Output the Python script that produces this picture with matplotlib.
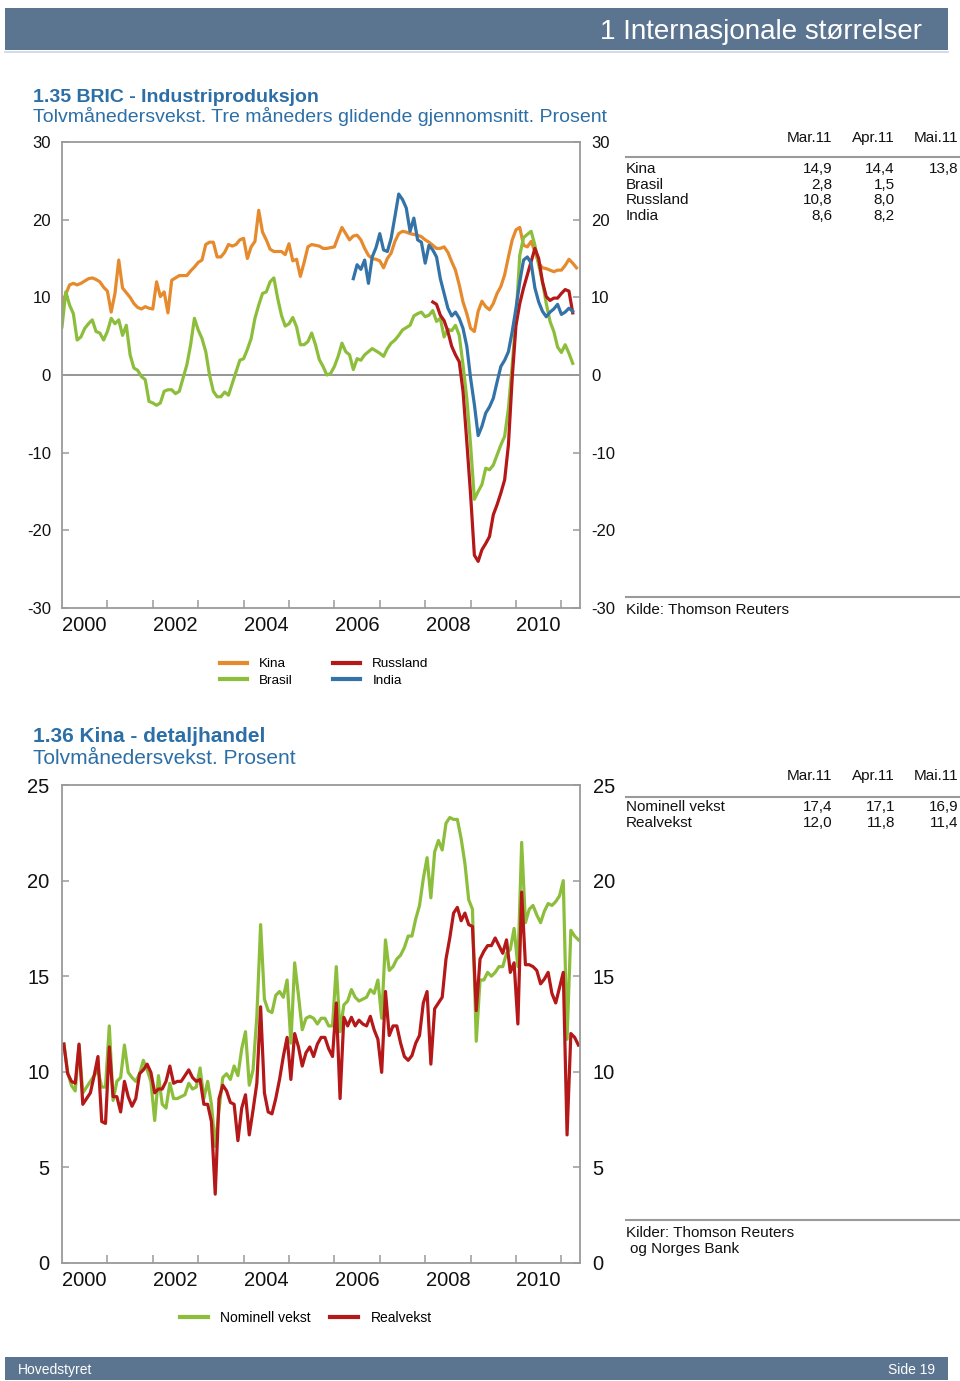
import numpy as np
import matplotlib
matplotlib.use("Agg")
import matplotlib.pyplot as plt
from matplotlib.patches import Rectangle
from matplotlib.lines import Line2D

plt.rcParams['font.family'] = ['Liberation Sans', 'DejaVu Sans']

# ---- 1.35 BRIC industrial production, monthly from Jan 2000 (month index 0) ----
kina_start = 0
kina = [9.2, 10.4, 11.6, 11.8, 11.6, 11.8, 12.1, 12.4, 12.5, 12.3, 12.0, 11.3,
        10.8, 8.1, 10.5, 14.8, 11.2, 10.6, 10.0, 9.2, 8.7, 8.5, 8.8, 8.6,
        8.5, 12.0, 10.1, 10.7, 8.0, 12.2, 12.5, 12.8, 12.8, 12.8, 13.4, 13.9,
        14.5, 14.8, 16.8, 17.1, 17.1, 15.2, 15.2, 15.8, 16.8, 16.6, 16.8, 17.4,
        17.6, 15.0, 16.5, 17.2, 21.2, 18.4, 17.4, 16.2, 15.9, 15.9, 15.9, 15.5,
        16.9, 14.7, 14.9, 12.7, 14.5, 16.5, 16.8, 16.7, 16.6, 16.3, 16.3, 16.4,
        16.5, 17.8, 19.0, 18.2, 17.4, 17.9, 18.0, 17.4, 16.3, 15.4, 15.0, 14.9,
        14.7, 13.8, 15.0, 15.7, 17.2, 18.2, 18.5, 18.4, 18.2, 18.1, 18.0, 17.8,
        17.4, 17.1, 16.7, 16.3, 16.3, 16.5, 15.8, 14.6, 13.5, 11.6, 9.4, 7.9,
        6.0, 5.6, 8.2, 9.5, 8.8, 8.4, 9.2, 10.5, 11.4, 12.9, 15.2, 17.4,
        18.7, 19.0, 16.7, 16.5, 17.2, 15.9, 14.4, 13.8, 13.7, 13.5, 13.3, 13.5,
        13.5, 14.1, 14.9, 14.4, 13.8]

brasil_start = 0
brasil = [6.2, 10.7, 9.0, 7.9, 4.5, 4.9, 6.0, 6.6, 7.1, 5.6, 5.4, 4.5,
          5.6, 7.3, 6.6, 7.1, 5.1, 6.4, 2.6, 0.9, 0.6, -0.2, -0.6, -3.4,
          -3.6, -3.9, -3.6, -2.1, -1.9, -1.9, -2.4, -2.1, -0.4, 1.3, 3.9, 7.3,
          5.8, 4.7, 3.0, 0.0, -2.1, -2.8, -2.8, -2.2, -2.6, -1.1, 0.4, 1.9,
          2.1, 3.3, 4.7, 7.3, 9.0, 10.5, 10.7, 12.0, 12.5, 9.9, 7.7, 6.3,
          6.6, 7.4, 6.2, 3.9, 3.9, 4.3, 5.4, 3.9, 2.0, 1.1, 0.0, 0.2,
          1.1, 2.4, 4.1, 3.0, 2.6, 0.7, 2.1, 1.9, 2.6, 3.0, 3.4, 3.1,
          2.8, 2.4, 3.4, 4.1, 4.5, 5.1, 5.8, 6.1, 6.4, 7.6, 7.9, 8.1,
          7.5, 7.7, 8.3, 6.9, 7.3, 4.9, 5.9, 5.7, 6.4, 5.1, 1.3, -3.0,
          -9.0, -16.0, -15.0, -14.1, -12.0, -12.2, -11.6, -10.3, -9.0, -7.9, -4.3, 1.3,
          7.3, 15.4, 17.7, 18.1, 18.5, 16.7, 14.2, 12.0, 9.2, 6.9, 5.6, 3.6,
          2.9, 3.9, 2.8, 1.5]

russland_start = 98
russland = [9.4, 9.1, 7.7, 7.0, 5.6, 3.7, 2.6, 1.7, -2.1, -8.6, -15.4, -23.2,
            -24.0, -22.5, -21.7, -20.8, -18.0, -16.7, -15.2, -13.5, -9.0, -0.4, 6.4, 9.2,
            11.2, 12.9, 14.6, 16.3, 15.0, 12.0, 10.1, 9.6, 9.9, 9.9, 10.5, 11.0,
            10.8, 8.0]

india_start = 77
india = [12.4, 14.2, 13.6, 14.8, 11.8, 15.2, 16.4, 18.2, 16.1, 15.9, 17.6, 20.4,
         23.3, 22.6, 21.5, 18.5, 20.2, 17.4, 17.1, 14.4, 16.7, 16.1, 15.2, 12.4,
         10.5, 8.6, 7.6, 8.1, 7.3, 6.0, 3.7, -0.4, -3.8, -7.8, -6.6, -4.9,
         -4.1, -3.0, -0.9, 1.1, 1.9, 3.0, 5.6, 8.6, 12.0, 14.8, 15.2, 14.4,
         11.2, 9.4, 8.2, 7.5, 8.1, 8.5, 9.1, 7.8, 8.1, 8.6, 8.2]

# ---- 1.36 China retail sales, monthly from Jan 2000 ----
nominell = [11.45, 9.97, 9.28, 9.0, 11.4, 8.9, 9.2, 9.5, 9.8, 10.1, 9.2, 9.2,
            12.4, 8.5, 9.5, 9.7, 11.4, 9.97, 9.7, 9.5, 9.9, 10.6, 10.1, 9.5,
            7.45, 9.8, 8.3, 8.1, 9.4, 8.6, 8.6, 8.7, 8.8, 9.4, 9.1, 9.2,
            10.2, 8.6, 9.5, 8.3, 6.1, 8.0, 9.7, 9.9, 9.6, 10.3, 9.8, 11.2,
            12.1, 9.3, 10.1, 12.9, 17.7, 13.8, 13.2, 13.1, 14.0, 14.2, 13.9, 14.8,
            11.5, 15.7, 14.0, 12.2, 12.8, 12.9, 12.8, 12.5, 12.8, 12.8, 12.4, 12.4,
            15.5, 12.1, 13.5, 13.7, 14.3, 13.9, 13.7, 13.8, 13.9, 14.3, 14.1, 14.8,
            12.8, 16.9, 15.3, 15.5, 15.9, 16.1, 16.5, 17.1, 17.1, 18.0, 18.7, 20.1,
            21.2, 19.1, 21.5, 22.1, 21.6, 23.0, 23.3, 23.2, 23.2, 22.2, 20.9, 19.0,
            18.5, 11.6, 14.8, 14.8, 15.2, 15.0, 15.2, 15.5, 15.5, 16.2, 16.4, 17.5,
            15.5, 22.0, 17.8, 18.5, 18.7, 18.2, 17.8, 18.4, 18.8, 18.7, 18.9, 19.2,
            20.0, 11.7, 17.4, 17.1, 16.9]

realvekst = [11.45, 9.9, 9.5, 9.4, 11.45, 8.3, 8.6, 8.9, 9.8, 10.8, 7.4, 7.3,
             11.3, 8.7, 8.7, 7.9, 9.5, 8.7, 8.2, 8.6, 9.9, 10.1, 10.4, 9.97,
             8.9, 9.1, 9.1, 9.5, 10.3, 9.4, 9.5, 9.5, 9.8, 10.1, 9.7, 9.5,
             9.6, 8.3, 8.3, 7.4, 3.6, 8.6, 9.3, 9.0, 8.4, 8.3, 6.4, 8.1,
             8.8, 6.7, 8.0, 9.4, 13.4, 8.9, 7.9, 7.8, 8.6, 9.6, 10.8, 11.8,
             9.6, 12.0, 11.3, 10.3, 11.0, 11.3, 10.8, 11.45, 11.8, 11.8, 11.2, 10.8,
             13.6, 8.6, 12.85, 12.4, 12.85, 12.4, 12.7, 12.5, 12.4, 12.9, 12.2, 11.7,
             9.97, 14.2, 11.9, 12.4, 12.4, 11.5, 10.8, 10.6, 10.85, 11.5, 11.9, 13.6,
             14.2, 10.4, 13.3, 13.6, 13.9, 15.9, 17.0, 18.3, 18.6, 17.9, 18.3, 17.7,
             17.6, 13.2, 15.9, 16.3, 16.6, 16.6, 17.0, 16.6, 16.2, 16.9, 15.2, 15.7,
             12.5, 19.4, 15.6, 15.6, 15.5, 15.3, 14.6, 14.85, 15.2, 14.1, 13.6, 14.4,
             15.2, 6.7, 12.0, 11.8, 11.4]

table_months = ['Mar.11', 'Apr.11', 'Mai.11']
table_idx = [134, 135, 136]
year_labels = [2000, 2002, 2004, 2006, 2008, 2010]

# ---- style ----
W, H = 960, 1381
BAR = '#5B7590'
TITLE = '#2C6EA6'
SPINE = '#9A9A9A'
TXT = '#111111'
C_KINA = '#E68A2E'
C_BRASIL = '#8CBE3C'
C_RUSS = '#B41818'
C_INDIA = '#3473A8'


def fx(px):
    return px / W


def fy(py):
    return 1 - py / H


def txt(fig, x, y, s, **kw):
    # y given as visual centre of the glyphs in pixels
    kw.setdefault('va', 'center')
    return fig.text(fx(x), fy(y + 2), s, **kw)


def months_to_x(start, n, offset=0.0):
    return 2000 + (start + np.arange(n) + offset) / 12.0


def style_axes(ax, ylim, yticks, ylabsize, ypad):
    ax.set_xlim(2000, 2011.41)
    ax.set_ylim(*ylim)
    ax.set_yticks(yticks)
    ax.set_yticklabels([str(t) for t in yticks])
    ax.set_xticks(range(2001, 2012))
    ax.set_xticks([y + 0.5 for y in year_labels], minor=True)
    ax.set_xticklabels([str(y) for y in year_labels], minor=True)
    ax.tick_params(axis='x', which='major', direction='in', length=6,
                   width=1.1, color=SPINE, labelbottom=False)
    ax.tick_params(axis='x', which='minor', length=0, labelsize=14.5,
                   pad=5.5, labelcolor=TXT)
    ax.tick_params(axis='y', direction='in', length=5, width=1.1, color=SPINE,
                   left=True, right=True, labelleft=True, labelright=True,
                   labelsize=ylabsize, pad=ypad, labelcolor=TXT)
    for s in ax.spines.values():
        s.set_color(SPINE)
        s.set_linewidth(1.3)


def fmt(v):
    return f"{v:.1f}".replace('.', ',')


def table(fig, header_y, line_y, row_y, rows):
    cols = [832, 895, 958]
    for c, m in zip(cols, table_months):
        txt(fig, c, header_y, m, ha='right', fontsize=11, color=TXT)
    fig.add_artist(Line2D([fx(626), fx(960)], [fy(line_y), fy(line_y)],
                          color=SPINE, lw=1.5))
    for (label, start, series), y in zip(rows, row_y):
        txt(fig, 626, y, label, ha='left', fontsize=11, color=TXT)
        for c, m in zip(cols, table_idx):
            k = m - start
            if 0 <= k < len(series):
                txt(fig, c, y, fmt(series[k]), ha='right', fontsize=11,
                    color=TXT)


fig = plt.figure(figsize=(9.6, 13.81), dpi=100)

# header and footer bars
fig.add_artist(Rectangle((fx(5), fy(50)), fx(943), 42 / H,
                         facecolor=BAR, edgecolor='none'))
fig.add_artist(Line2D([fx(5), fx(948)], [fy(52), fy(52)],
                      color='#C9D5E1', lw=1.2))
txt(fig, 922, 30, '1 Internasjonale størrelser', ha='right', fontsize=20,
    color='white')
fig.add_artist(Rectangle((fx(5), fy(1380)), fx(943), 23 / H,
                         facecolor=BAR, edgecolor='none'))
txt(fig, 18, 1368, 'Hovedstyret', ha='left', fontsize=10, color='white')
txt(fig, 935, 1368, 'Side 19', ha='right', fontsize=10, color='white')

# ---- chart 1.35 ----
txt(fig, 33, 95, '1.35 BRIC - Industriproduksjon', ha='left', fontsize=14,
    fontweight='bold', color=TITLE)
txt(fig, 33, 115,
    'Tolvmånedersvekst. Tre måneders glidende gjennomsnitt. Prosent',
    ha='left', fontsize=14, color=TITLE)

ax1 = fig.add_axes([fx(62), fy(608), (580 - 62) / W, (608 - 142) / H])
style_axes(ax1, (-30, 30), list(range(-30, 31, 10)), 12, 8)
ax1.axhline(0, color='#8C8C8C', lw=1.3, zorder=1)
lw = 2.3
ax1.plot(months_to_x(kina_start, len(kina)), kina, color=C_KINA, lw=lw)
ax1.plot(months_to_x(brasil_start, len(brasil)), brasil, color=C_BRASIL, lw=lw)
ax1.plot(months_to_x(russland_start, len(russland)), russland, color=C_RUSS, lw=lw)
ax1.plot(months_to_x(india_start, len(india)), india, color=C_INDIA, lw=lw)

h1 = [Line2D([], [], color=c, lw=3) for c in (C_KINA, C_BRASIL, C_RUSS, C_INDIA)]
fig.legend(h1, ['Kina', 'Brasil', 'Russland', 'India'], ncol=2,
           loc='upper left', bbox_to_anchor=(fx(220), fy(658)),
           frameon=False, fontsize=9.7, handlelength=2.0, handletextpad=0.9,
           columnspacing=3.0, labelspacing=0.3, borderpad=0, borderaxespad=0)

table(fig, 136, 157, [167, 183, 198, 214],
      [('Kina', kina_start, kina), ('Brasil', brasil_start, brasil),
       ('Russland', russland_start, russland), ('India', india_start, india)])
fig.add_artist(Line2D([fx(626), fx(960)], [fy(597), fy(597)], color=SPINE, lw=1.5))
txt(fig, 626, 608, 'Kilde: Thomson Reuters', ha='left', fontsize=11, color=TXT)

# ---- chart 1.36 ----
txt(fig, 33, 735, '1.36 Kina - detaljhandel', ha='left', fontsize=15,
    fontweight='bold', color=TITLE)
txt(fig, 33, 756, 'Tolvmånedersvekst. Prosent', ha='left', fontsize=15,
    color=TITLE)

ax2 = fig.add_axes([fx(62), fy(1263), (580 - 62) / W, (1263 - 785) / H])
style_axes(ax2, (0, 25), list(range(0, 26, 5)), 14.5, 9)
ax2.plot(months_to_x(0, len(nominell), 0.5), nominell, color=C_BRASIL, lw=lw)
ax2.plot(months_to_x(0, len(realvekst), 0.5), realvekst, color=C_RUSS, lw=lw)

h2 = [Line2D([], [], color=c, lw=3) for c in (C_BRASIL, C_RUSS)]
fig.legend(h2, ['Nominell vekst', 'Realvekst'], ncol=2, loc='upper left',
           bbox_to_anchor=(fx(180), fy(1311)), frameon=False, fontsize=10,
           handlelength=2.0, handletextpad=0.9, columnspacing=1.4,
           borderpad=0, borderaxespad=0)

table(fig, 774, 797, [805, 821],
      [('Nominell vekst', 0, nominell), ('Realvekst', 0, realvekst)])
fig.add_artist(Line2D([fx(626), fx(960)], [fy(1220), fy(1220)], color=SPINE, lw=1.5))
txt(fig, 626, 1231, 'Kilder: Thomson Reuters', ha='left', fontsize=11, color=TXT)
txt(fig, 630, 1247, 'og Norges Bank', ha='left', fontsize=11, color=TXT)

fig.savefig('out.png', dpi=100)
